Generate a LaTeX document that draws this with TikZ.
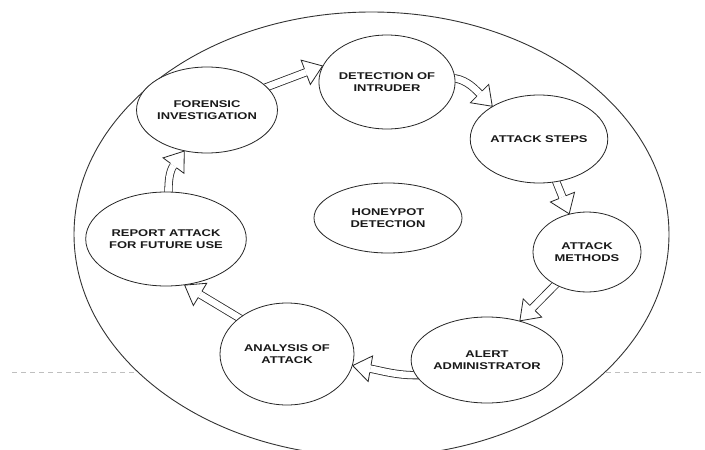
\documentclass[tikz,border=0pt]{standalone}
\usepackage{fontspec}
\newfontfamily\lblfont[FakeStretch=1.32]{Liberation Sans}
\usetikzlibrary{shapes.geometric,calc}
\pgfdeclarelayer{back}
\pgfdeclarelayer{mid}
\pgfsetlayers{back,mid,main}

\def\arrhl{18pt}
\def\arrhw{13pt}
\def\arrhs{3.7pt}

% hollow arrow head: #1 tip, #2 page angle of pointing direction
\newcommand{\hhead}[2]{%
  \fill[white] (#1) -- ($(#1)+(#2+180:\arrhl)+(#2+90:\arrhw)$) -- ($(#1)+(#2+180:\arrhl)+(#2-90:\arrhw)$) -- cycle;
  \draw[headline] ($(#1)+(#2+180:\arrhl)+(#2+90:\arrhs)$) -- ($(#1)+(#2+180:\arrhl)+(#2+90:\arrhw)$) -- (#1) -- ($(#1)+(#2+180:\arrhl)+(#2-90:\arrhw)$) -- ($(#1)+(#2+180:\arrhl)+(#2-90:\arrhs)$);}

% straight hollow arrow from #1 to #2
\newcommand{\sarrow}[2]{%
  \path let \p1=($(#2)-(#1)$) in \pgfextra{\pgfmathparse{atan2(\y1,\x1)}\xdef\arrang{\pgfmathresult}};
  \draw[shaft] ($(#1)+(\arrang+180:6pt)$) -- ($(#2)+(\arrang+180:\arrhl)$);
  \hhead{#2}{\arrang}}

\begin{document}
\begin{tikzpicture}[x=1pt,y=-1pt,
  circ/.style={ellipse, draw=black!85, line width=0.8pt, fill=white, inner sep=0pt,
    align=center, text=black!90,
    font=\lblfont\bfseries\fontsize{9.8}{11.7}\selectfont},
  shaft/.style={draw=black!85, line width=0.8pt, double=white, double distance=6.6pt},
  headline/.style={draw=black!85, line width=0.8pt, line join=miter}]

\useasboundingbox (0,0) rectangle (705,450);

\begin{pgfonlayer}{back}
  \clip (0,0) rectangle (705,450);
  \draw[gray!50, line width=0.7pt, dash pattern=on 5pt off 4pt] (12,372) -- (705,372);
  \draw[draw=black!80, line width=0.9pt, fill=white] (371.5,234.3) ellipse [x radius=297.5pt, y radius=222.3pt];
\end{pgfonlayer}

% nodes
\node[circ, minimum width=130pt, minimum height=94pt] (det) at (387,82) {DETECTION OF\\INTRUDER};
\node[circ, minimum width=116pt, minimum height=86pt] (for) at (207,110) {FORENSIC\\INVESTIGATION};
\node[circ, minimum width=120pt, minimum height=88pt] (stp) at (539,139) {ATTACK STEPS};
\node[circ, minimum width=108pt, minimum height=80pt] (met) at (587,252) {ATTACK\\METHODS};
\node[circ, minimum width=116pt, minimum height=86pt] (alr) at (487,360) {ALERT\\ADMINISTRATOR};
\node[circ, minimum width=134pt, minimum height=102pt] (ana) at (287,354) {ANALYSIS OF\\ATTACK};
\node[circ, minimum width=122pt, minimum height=94pt] (rep) at (166,239) {REPORT ATTACK\\FOR FUTURE USE};
\node[circ, minimum width=148pt, minimum height=70pt] (hon) at (388,218) {HONEYPOT\\DETECTION};

\begin{pgfonlayer}{mid}
  % forensic -> detection
  \sarrow{for.21}{det.166}
  % detection -> attack steps (curved)
  \draw[shaft] ($(det.3)+(180:6pt)$) -- (det.3) .. controls ($(det.3)+(-10:12pt)$) and ($(stp.145)+(135:25pt)$) .. ($(stp.145)+(135:\arrhl)$);
  \hhead{stp.145}{-45}
  % attack steps -> attack methods
  \sarrow{stp.292}{met.115}
  % attack methods -> alert
  \sarrow{met.226}{alr.50}
  % alert -> analysis (curved)
  \draw[shaft] ($(alr.192)+(0:6pt)$) -- (alr.192) .. controls ($(alr.192)+(180:20pt)$) and ($(ana.350)+(350:28pt)$) .. ($(ana.350)+(350:\arrhl)$);
  \hhead{ana.350}{170}
  % analysis -> report
  \sarrow{ana.143}{rep.292}
  % report -> forensic (curved)
  \draw[shaft] ($(rep.87)+(270:6pt)$) -- (rep.87) .. controls ($(rep.87)+(90:10pt)$) and ($(for.241)+(233.6:25pt)$) .. ($(for.241)+(233.6:\arrhl)$);
  \hhead{for.241}{53.6}
\end{pgfonlayer}

\end{tikzpicture}
\end{document}
